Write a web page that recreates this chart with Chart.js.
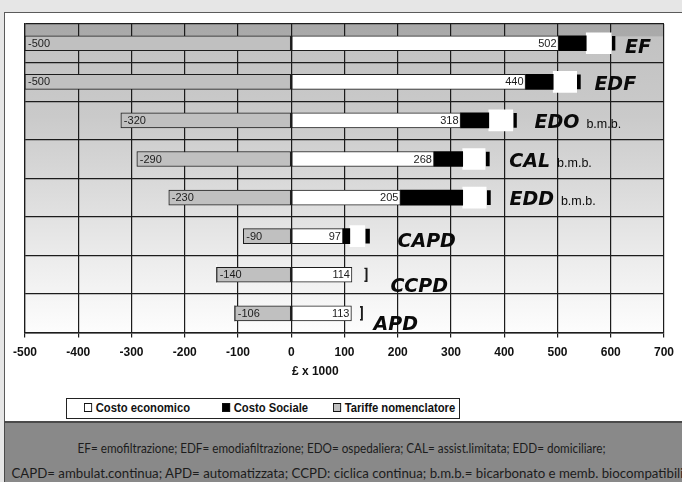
<!DOCTYPE html>
<html>
<head>
<meta charset="utf-8">
<script src="https://cdn.jsdelivr.net/npm/chart.js@4/dist/chart.umd.min.js"></script>
<style>
  html, body { margin: 0; padding: 0; }
  body { width: 682px; height: 482px; background: #e6e6e6; position: relative; overflow: hidden; font-family: "Liberation Sans", Arial, sans-serif; }
  #panel { position: absolute; left: 4px; top: 12px; width: 678px; height: 410px; background: #fff; border-left: 1px solid #5a5a5a; border-top: 1px solid #5a5a5a; box-sizing: border-box; }
  #wrap { position: absolute; left: 0; top: 0; width: 682px; height: 395px; }
  #legend { position: absolute; left: 66px; top: 398px; width: 394px; height: 21px; border: 1px solid #222; box-sizing: border-box; background: #fff; }
  #legend .item { position: absolute; top: 2px; font: bold 12.5px "Liberation Sans", Arial, sans-serif; color: #111; white-space: nowrap; transform: scaleX(0.9); transform-origin: left center; }
  #legend .sw { display: inline-block; width: 7px; height: 7px; border: 1px solid #111; margin-right: 4px; vertical-align: 0px; }
  #notes { position: absolute; left: 4px; top: 421px; width: 678px; height: 61px; background: #898989; border-top: 2px solid #4a4a4a; border-left: 1px solid #4a4a4a; box-sizing: border-box; color: #1c1c1c; font: 13.5px Lato, sans-serif; white-space: nowrap; overflow: hidden; }
  #notes .line { position: absolute; white-space: nowrap; transform-origin: center center; }
</style>
</head>
<body>
<div id="panel"></div>
<div id="wrap"><canvas id="chart" width="682" height="395"></canvas></div>
<div id="legend"></div>
<div id="notes">
  <span class="line" id="n1">EF= emofiltrazione; EDF= emodiafiltrazione; EDO= ospedaliera; CAL= assist.limitata; EDD= domiciliare;</span>
  <span class="line" id="n2">CAPD= ambulat.continua; APD= automatizzata; CCPD: ciclica continua; b.m.b.= bicarbonato e memb. biocompatibili</span>
</div>
<script>
// Dialysis modalities and their annual costs (£ x 1000)
const categories = ['EF', 'EDF', 'EDO', 'CAL', 'EDD', 'CAPD', 'CCPD', 'APD'];
const categoryNotes = ['', '', 'b.m.b.', 'b.m.b.', 'b.m.b.', '', '', ''];
const tariffe = [-500, -500, -320, -290, -230, -90, -140, -106];
const costoEconomico = [502, 440, 318, 268, 205, 97, 114, 113];
const costoSociale = [52, 52, 53, 54, 117, 13, 0, 0];
const margine = [47, 44, 45, 42, 44, 28, 0, 0];
const scarto = [2, 1, 2, 2, 2, 2, 23, 16];
const estremo = [5, 6, 5, 6, 6, 7, 6, 5];
const xTicks = [-500, -400, -300, -200, -100, 0, 100, 200, 300, 400, 500, 600, 700];
const axisTitle = '£ x 1000';

const INK = '#1c1c1c';
const GRAY = '#c0c0c0';
const AXIS_FONT = 'bold 12px "Liberation Sans", Arial, sans-serif';

// plot area: dark strip at the top, fading to near white at the bottom
const backdrop = {
  id: 'backdrop',
  beforeDraw(chart) {
    const { ctx, chartArea: a } = chart;
    const g = ctx.createLinearGradient(0, a.top, 0, a.bottom);
    g.addColorStop(0, '#a8a8a8');
    g.addColorStop(0.038, '#aaaaaa');
    g.addColorStop(0.042, '#c2c2c2');
    g.addColorStop(0.3, '#cacaca');
    g.addColorStop(0.55, '#dcdcdc');
    g.addColorStop(0.8, '#efefef');
    g.addColorStop(1, '#fdfdfd');
    ctx.save();
    ctx.fillStyle = g;
    ctx.fillRect(a.left, a.top, a.width, a.height);
    ctx.restore();
  }
};

// value labels: tariffs at the outer (left) end, economic cost at the inner end of the white bar
const valueLabels = {
  id: 'valueLabels',
  afterDatasetsDraw(chart) {
    const { ctx } = chart;
    ctx.save();
    ctx.font = '11px "Liberation Sans", Arial, sans-serif';
    ctx.fillStyle = INK;
    ctx.textBaseline = 'middle';
    chart.getDatasetMeta(0).data.forEach((el, i) => {
      ctx.textAlign = 'left';
      ctx.fillText(String(tariffe[i]), Math.min(el.x, el.base) + 3, el.y + 0.5);
    });
    chart.getDatasetMeta(1).data.forEach((el, i) => {
      ctx.textAlign = 'right';
      ctx.fillText(String(costoEconomico[i]), Math.max(el.x, el.base) - 2, el.y + 0.5);
    });
    ctx.restore();
  }
};

// modality names written just past the end of each stack, plus the axis caption
const tagShift = [10, 14, 18, 20, 19, 28, 23, 11];
const tagDrop = [3, 1, 1, 1, 0, 4, 10, 10];
const modalityTags = {
  id: 'modalityTags',
  afterDraw(chart) {
    const { ctx } = chart;
    const xs = chart.scales.x, ys = chart.scales.y;
    ctx.save();
    ctx.fillStyle = '#0a0a0a';
    ctx.textBaseline = 'alphabetic';
    ctx.textAlign = 'left';
    categories.forEach((name, i) => {
      const end = costoEconomico[i] + costoSociale[i] + margine[i] + scarto[i] + estremo[i];
      const x = xs.getPixelForValue(end) + tagShift[i];
      const y = ys.getPixelForValue(i) + tagDrop[i] + 7;
      ctx.font = 'italic bold 19px "DejaVu Sans", sans-serif';
      ctx.fillText(name, x, y);
      if (categoryNotes[i]) {
        const w = ctx.measureText(name).width;
        ctx.font = '12.5px "Liberation Sans", Arial, sans-serif';
        ctx.fillText(categoryNotes[i], x + w + 7, y);
      }
    });
    ctx.font = AXIS_FONT;
    ctx.fillStyle = '#111';
    ctx.textAlign = 'center';
    ctx.textBaseline = 'middle';
    ctx.fillText(axisTitle, xs.getPixelForValue(0) + 24, xs.top + 39);
    ctx.restore();
  }
};

const bracketRow = i => costoSociale[i] === 0;

new Chart(document.getElementById('chart'), {
  type: 'bar',
  data: {
    labels: categories,
    datasets: [
      { label: 'Tariffe nomenclatore', data: tariffe, backgroundColor: GRAY, borderColor: INK, borderWidth: 1, borderSkipped: false, barThickness: 15 },
      { label: 'Costo economico', data: costoEconomico, backgroundColor: '#ffffff', borderColor: INK, borderWidth: 1, borderSkipped: false, barThickness: 15 },
      { label: 'Costo Sociale', data: costoSociale, backgroundColor: '#000000', borderWidth: 0, barThickness: 15 },
      { label: 'Margine', data: margine, backgroundColor: '#ffffff', borderWidth: 0, barThickness: 21 },
      { label: 'Scarto', data: scarto, backgroundColor: 'rgba(0,0,0,0)', borderWidth: 0, barThickness: 15 },
      {
        label: 'Estremo', data: estremo, barThickness: 14, borderSkipped: false, borderColor: INK,
        backgroundColor: c => bracketRow(c.dataIndex) ? 'rgba(0,0,0,0)' : '#000000',
        borderWidth: c => bracketRow(c.dataIndex) ? { top: 1, bottom: 1, right: 1.5, left: 0 } : 0
      }
    ]
  },
  options: {
    indexAxis: 'y',
    responsive: false,
    animation: false,
    devicePixelRatio: 1,
    layout: { padding: { left: 25, right: 14, top: 24, bottom: 27 } },
    plugins: { legend: { display: false }, tooltip: { enabled: false } },
    scales: {
      x: {
        type: 'linear', min: -500, max: 700, stacked: true,
        afterBuildTicks: s => { s.ticks = xTicks.map(v => ({ value: v })); },
        grid: { color: INK, lineWidth: 1.2, tickLength: 5, drawTicks: true },
        border: { color: INK, width: 1.5 },
        ticks: { color: '#111', padding: 8, autoSkip: false, maxRotation: 0, font: { family: '"Liberation Sans", Arial, sans-serif', weight: 'bold', size: 12 } },
        title: { display: false }
      },
      y: {
        type: 'category', stacked: true, offset: true,
        grid: { offset: true, color: INK, lineWidth: 1.2, drawTicks: false },
        border: { color: INK, width: 1.2 },
        ticks: { display: false }
      }
    }
  },
  plugins: [backdrop, valueLabels, modalityTags]
});

// legend for the three cost series
const legendItems = [
  { text: 'Costo economico', fill: '#ffffff', left: 17 },
  { text: 'Costo Sociale', fill: '#000000', left: 155 },
  { text: 'Tariffe nomenclatore', fill: GRAY, left: 266 }
];
const legend = document.getElementById('legend');
legendItems.forEach(it => {
  const d = document.createElement('span');
  d.className = 'item';
  d.style.left = it.left + 'px';
  d.innerHTML = '<span class="sw" style="background:' + it.fill + '"></span>' + it.text;
  legend.appendChild(d);
});

// footnote lines: centred at a given x and stretched to a given width
function placeLine(id, centerX, centerY, width) {
  const el = document.getElementById(id);
  const w = el.getBoundingClientRect().width;
  const h = el.getBoundingClientRect().height;
  el.style.left = (centerX - 4 - w / 2) + 'px';
  el.style.top = (centerY - 421 - h / 2) + 'px';
  el.style.transform = 'scaleX(' + (width / w) + ')';
}
placeLine('n1', 341, 446, 528);
placeLine('n2', 346, 471, 672);
</script>
</body>
</html>
